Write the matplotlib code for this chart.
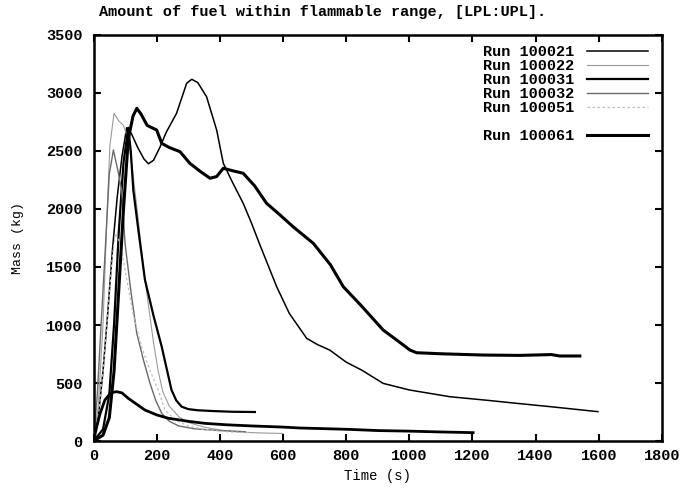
import matplotlib
matplotlib.use('Agg')
import matplotlib.pyplot as plt
from matplotlib.lines import Line2D

# Fonte monoespaçada em negrito, parecida com a saída do gnuplot
plt.rcParams['font.family'] = ['Liberation Mono', 'DejaVu Sans Mono']
plt.rcParams['font.weight'] = 'bold'

# Dados (tempo em s, massa em kg)
t_100021 = [0, 15, 30, 45, 60, 75, 90, 105, 120, 140, 160, 174, 190, 210, 230, 263, 295, 311, 330, 358,
            390, 411, 440, 474, 500, 527, 555, 580, 620, 675, 710, 748, 800, 850, 917, 1000, 1128, 1250,
            1339, 1450, 1597]
m_100021 = [0, 200, 600, 1100, 1650, 2100, 2450, 2700, 2650, 2530, 2430, 2390, 2420, 2530, 2660, 2825,
            3084, 3118, 3090, 2968, 2680, 2394, 2230, 2049, 1880, 1690, 1500, 1330, 1100, 885, 830, 784,
            680, 610, 497, 440, 382, 350, 325, 295, 253]

t_100022 = [0, 15, 30, 42, 52, 65, 80, 95, 110, 125, 140, 158, 175, 190, 205, 220, 240, 270, 300, 350,
            400, 450, 520, 600]
m_100022 = [0, 300, 1000, 1900, 2550, 2825, 2760, 2720, 2600, 2300, 1950, 1500, 1150, 850, 600, 420,
            300, 210, 160, 120, 95, 80, 70, 65]

t_100031 = [0, 30, 50, 65, 80, 95, 110, 118, 126, 142, 163, 190, 216, 232, 247, 262, 279, 300, 330, 380,
            440, 511]
m_100031 = [0, 100, 400, 1000, 1800, 2400, 2700, 2500, 2164, 1819, 1388, 1080, 813, 620, 440, 350, 296,
            275, 265, 258, 252, 250]

t_100032 = [0, 12, 24, 36, 50, 63, 79, 89, 100, 118, 137, 158, 179, 197, 216, 240, 270, 320, 400, 480]
m_100032 = [0, 400, 1000, 1589, 2300, 2509, 2308, 2164, 1700, 1300, 928, 700, 497, 350, 239, 170, 130,
            105, 90, 80]

t_100051 = [0, 15, 30, 45, 60, 70, 85, 105, 125, 152, 180, 205, 226, 260, 300, 350, 420, 500]
m_100051 = [0, 200, 600, 1100, 1600, 1790, 1700, 1400, 1100, 813, 600, 440, 267, 180, 130, 100, 80, 70]

t_100061 = [0, 30, 50, 65, 80, 95, 110, 125, 137, 150, 170, 200, 216, 240, 274, 305, 340, 369, 390, 411,
            440, 474, 510, 548, 590, 632, 696, 750, 791, 850, 917, 970, 1002, 1023, 1100, 1234, 1350,
            1450, 1476, 1540]
m_100061 = [0, 50, 200, 600, 1300, 2000, 2600, 2800, 2868, 2820, 2720, 2681, 2566, 2530, 2494, 2394,
            2320, 2265, 2280, 2351, 2330, 2308, 2200, 2049, 1950, 1847, 1704, 1520, 1330, 1160, 957, 850,
            784, 761, 752, 741, 738, 745, 733, 733]

# Curva pequena (sem título na legenda)
t_small = [0, 10, 20, 36, 50, 62, 73, 90, 110, 135, 163, 200, 237, 300, 353, 420, 500, 600, 654, 750,
           812, 900, 1000, 1100, 1202]
m_small = [0, 120, 230, 353, 400, 420, 425, 415, 368, 320, 267, 225, 196, 170, 152, 140, 130, 120, 112,
           105, 100, 90, 85, 78, 72]

x_ticks = [0, 200, 400, 600, 800, 1000, 1200, 1400, 1600, 1800]
y_ticks = [0, 500, 1000, 1500, 2000, 2500, 3000, 3500]

fig = plt.figure(figsize=(6.84, 4.88), dpi=100)
ax = fig.add_axes([0.1367, 0.0963, 0.8311, 0.8320])

l1, = ax.plot(t_100021, m_100021, color='black', lw=1.1)
l2, = ax.plot(t_100022, m_100022, color='#9a9a9a', lw=0.8)
l3, = ax.plot(t_100031, m_100031, color='black', lw=1.6)
l4, = ax.plot(t_100032, m_100032, color='#6a6a6a', lw=1.0)
l5, = ax.plot(t_100051, m_100051, color='#bdbdbd', lw=0.9, ls=(0, (2, 2)))
l6, = ax.plot(t_100061, m_100061, color='black', lw=2.2)
ax.plot(t_small, m_small, color='black', lw=2.0)

ax.set_xlim(0, 1800)
ax.set_ylim(0, 3500)
ax.set_xticks(x_ticks)
ax.set_yticks(y_ticks)
ax.tick_params(direction='in', top=True, right=True, length=5, width=1.5, labelsize=11, pad=6)
ax.tick_params(axis='y', pad=8)
for s in ax.spines.values():
    s.set_linewidth(1.8)

ax.set_xlabel('Time (s)', fontsize=10, labelpad=4)
ax.set_ylabel('Mass (kg)', fontsize=9.5, labelpad=16)
fig.text(0.471, 0.975, 'Amount of fuel within flammable range, [LPL:UPL].', ha='center', va='center',
         fontsize=11)

# Legenda com linha em branco antes do último item
blank = Line2D([], [], color='none')
ax.legend([l1, l2, l3, l4, l5, blank, l6],
          ['Run 100021', 'Run 100022', 'Run 100031', 'Run 100032', 'Run 100051', ' ', 'Run 100061'],
          loc='upper right', bbox_to_anchor=(0.975, 0.975), frameon=False, markerfirst=False,
          handlelength=4.0, fontsize=11, labelspacing=0.0, borderaxespad=0, borderpad=0)

fig.savefig('out.png', dpi=100)
